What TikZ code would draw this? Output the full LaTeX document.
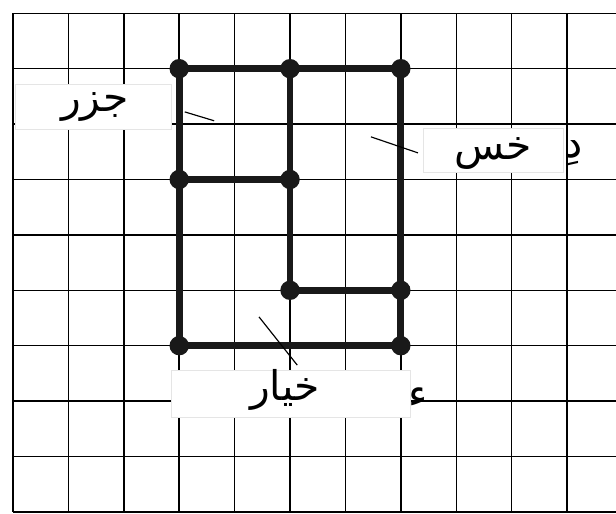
\documentclass[tikz,border=0pt]{standalone}
\usepackage{fontspec}
\newfontfamily\arabicfont[Script=Arabic]{DejaVu Sans}
\TeXXeTstate=1
\begin{document}
\begin{tikzpicture}[
  gridline/.style={line width=0.75pt, black},
  thick line/.style={line width=3.5pt, black!90, line cap=round},
  dotnode/.style={circle, fill=black!90, inner sep=0pt, minimum size=0.35cm},
  labelbox/.style={draw=black!10, fill=white, line width=0.4pt},
  leader/.style={line width=0.6pt, black},
  lbl/.style={font=\arabicfont\fontsize{21}{25}\selectfont, inner sep=0pt},
]
\useasboundingbox[fill=white] (-0.235,-0.036) rectangle (10.884,9.24);
% grid
\foreach \x in {0,...,10} \draw[gridline] (\x,0) -- (\x,9);
\foreach \y in {0,...,9} \draw[gridline] (0,\y) -- (10.884,\y);
% label boxes
\node[labelbox, minimum width=2.83cm, minimum height=0.81cm] (bjazar) at (1.45,7.305) {};
\node[labelbox, minimum width=2.53cm, minimum height=0.81cm] (bkhas) at (8.665,6.525) {};
\node[labelbox, minimum width=4.33cm, minimum height=0.85cm] (bkhiar) at (5.015,2.135) {};
% dots (vertices)
\node[dotnode] (a) at (3,8) {};
\node[dotnode] (b) at (5,8) {};
\node[dotnode] (c) at (7,8) {};
\node[dotnode] (d) at (3,6) {};
\node[dotnode] (e) at (5,6) {};
\node[dotnode] (f) at (5,4) {};
\node[dotnode] (g) at (7,4) {};
\node[dotnode] (h) at (3,3) {};
\node[dotnode] (i) at (7,3) {};
% thick outline
\draw[thick line] (a.center) -- (b.center) -- (c.center) -- (g.center) -- (i.center) -- (h.center) -- (d.center) -- (a.center);
\draw[thick line] (d.center) -- (e.center);
\draw[thick line] (b.center) -- (e.center) -- (f.center) -- (g.center);
% leader lines
\coordinate (l1a) at (3.10,7.22);
\coordinate (l1b) at (3.63,7.06);
\coordinate (l2a) at (6.46,6.77);
\coordinate (l2b) at (7.31,6.48);
\coordinate (l3a) at (4.44,3.52);
\coordinate (l3b) at (5.13,2.65);
\draw[leader] (l1a) -- (l1b);
\draw[leader] (l2a) -- (l2b);
\draw[leader] (l3a) -- (l3b);
% texts
\node[lbl] (tjazar) at (1.48,7.31) {\beginR جزر\endR};
\node[lbl] (tkhas) at (8.66,6.47) {\beginR خس\endR};
\node[lbl] (tdal) at (10.11,6.47) {\beginR دِ\endR};
\node[lbl] (tkhiar) at (4.91,2.20) {\beginR خيار\endR};
\node[lbl] (thamza) at (7.31,2.06) {\beginR ء\endR};
\end{tikzpicture}
\end{document}
